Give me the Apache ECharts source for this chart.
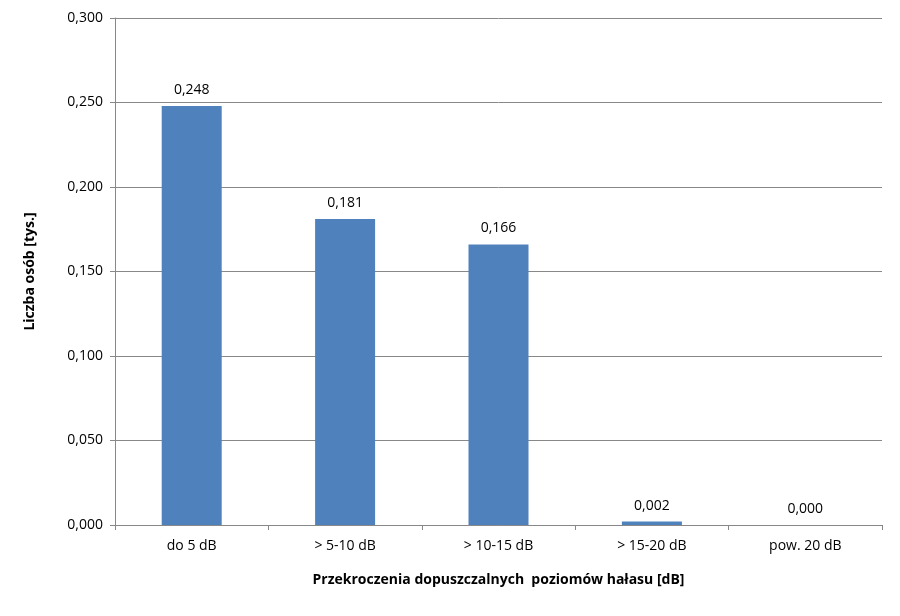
<!DOCTYPE html>
<html>
<head>
<meta charset="utf-8">
<script src="https://cdn.jsdelivr.net/npm/echarts@6/dist/echarts.min.js"></script>
<style>html,body{margin:0;padding:0;background:#fff}#chart{width:900px;height:616px}</style>
</head>
<body>
<div id="chart"></div>
<script>
var categories = ['do 5 dB', '> 5-10 dB', '> 10-15 dB', '> 15-20 dB', 'pow. 20 dB'];
var values = [0.248, 0.181, 0.166, 0.002, 0.000];

var font = '"Open Sans", "DejaVu Sans", sans-serif';
var chart = echarts.init(document.getElementById('chart'));
chart.setOption({
  animation: false,
  grid: { left: 115, right: 18, top: 18, bottom: 91 },
  xAxis: {
    type: 'category',
    data: categories,
    name: 'Przekroczenia dopuszczalnych  poziomów hałasu [dB]',
    nameLocation: 'middle',
    nameGap: 48,
    nameTextStyle: { fontFamily: font, fontSize: 14, fontWeight: 'bold', color: '#000' },
    axisLine: { lineStyle: { color: '#888' } },
    axisTick: { show: true, length: 5, lineStyle: { color: '#888' } },
    axisLabel: { fontFamily: font, fontSize: 14, color: '#000', margin: 14 }
  },
  yAxis: {
    type: 'value',
    min: 0, max: 0.3, interval: 0.05,
    name: 'Liczba osób [tys.]',
    nameLocation: 'middle',
    nameGap: 78,
    nameTextStyle: { fontFamily: font, fontSize: 14, fontWeight: 'bold', color: '#000' },
    axisLine: { show: true, lineStyle: { color: '#888' } },
    axisTick: { show: true, length: 5, lineStyle: { color: '#888' } },
    splitLine: { lineStyle: { color: '#888' } },
    axisLabel: {
      fontFamily: font, fontSize: 14, color: '#000', margin: 12,
      formatter: function (v) { return v.toFixed(3).replace('.', ','); }
    }
  },
  series: [{
    type: 'bar',
    data: values,
    barWidth: 60,
    itemStyle: { color: '#4f81bd' },
    label: {
      show: true, position: 'top', distance: 9,
      fontFamily: font, fontSize: 14, color: '#000',
      formatter: function (p) { return p.value.toFixed(3).replace('.', ','); }
    }
  }]
});
</script>
</body>
</html>
